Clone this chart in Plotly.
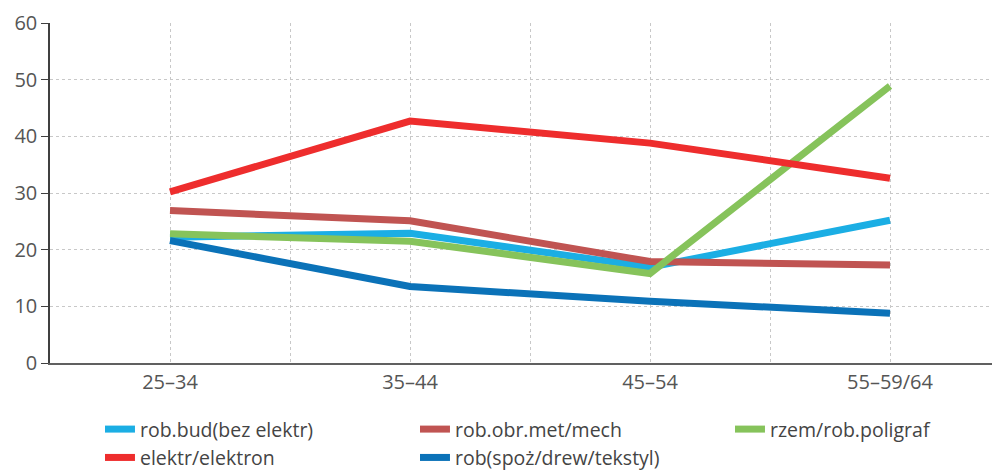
import plotly.graph_objects as go

categories = ["25–34", "35–44", "45–54", "55–59/64"]
series_names = ["rob.bud(bez elektr)", "rob.obr.met/mech", "rzem/rob.poligraf",
                "elektr/elektron", "rob(spoż/drew/tekstyl)"]
rob_bud = [22.2, 22.9, 16.9, 25.2]
rob_obr = [26.9, 25.1, 17.9, 17.3]
rzem = [22.8, 21.5, 15.8, 48.9]
elektr = [30.2, 42.7, 38.8, 32.6]
rob_spoz = [21.6, 13.5, 10.9, 8.8]
colors = ["#1BAEE4", "#C05452", "#86C35B", "#EE2D2D", "#0B72B8"]
y_ticks = [0, 10, 20, 30, 40, 50, 60]

values = [rob_bud, rob_obr, rzem, elektr, rob_spoz]
xpos = list(range(len(categories)))

fig = go.Figure()
for name, vals, col in zip(series_names, values, colors):
    fig.add_trace(go.Scatter(
        x=xpos, y=vals, name=name, mode="lines",
        line=dict(color=col, width=7),
    ))

# tick positions every half category so grid lines appear between categories
tickvals = []
ticktext = []
for i, c in enumerate(categories):
    tickvals.append(i)
    ticktext.append(c)
    tickvals.append(i + 0.5)
    ticktext.append("")

font_family = "Open Sans, Noto Sans, sans-serif"

fig.update_layout(
    width=992, height=463,
    margin=dict(l=42, r=0, t=15, b=108, autoexpand=False),
    paper_bgcolor="white", plot_bgcolor="white",
    font=dict(family=font_family, size=20, color="#555"),
    showlegend=True,
    legend=dict(
        orientation="h", x=0.0526, xanchor="left", y=-0.138, yanchor="top",
        entrywidth=270, entrywidthmode="pixels",
        font=dict(size=19.5, color="#444"),
        tracegroupgap=0, bgcolor="rgba(0,0,0,0)",
    ),
    xaxis=dict(
        range=[-0.5, -0.5 + 950 / 240],
        tickvals=tickvals, ticktext=ticktext,
        showgrid=True, gridcolor="#c8c8c8", griddash="dot", gridwidth=1,
        showline=True, linecolor="#606060", linewidth=2,
        ticks="", zeroline=False, automargin=False,
        tickfont=dict(size=20, color="#555"),
    ),
    yaxis=dict(
        range=[0, 60], tickvals=y_ticks,
        showgrid=True, gridcolor="#c8c8c8", griddash="dot", gridwidth=1,
        showline=True, linecolor="#404040", linewidth=1.5,
        ticks="outside", ticklen=7, tickcolor="#404040",
        zeroline=False, automargin=False,
        tickfont=dict(size=20, color="#555"),
    ),
)

fig.write_html("out.html")
